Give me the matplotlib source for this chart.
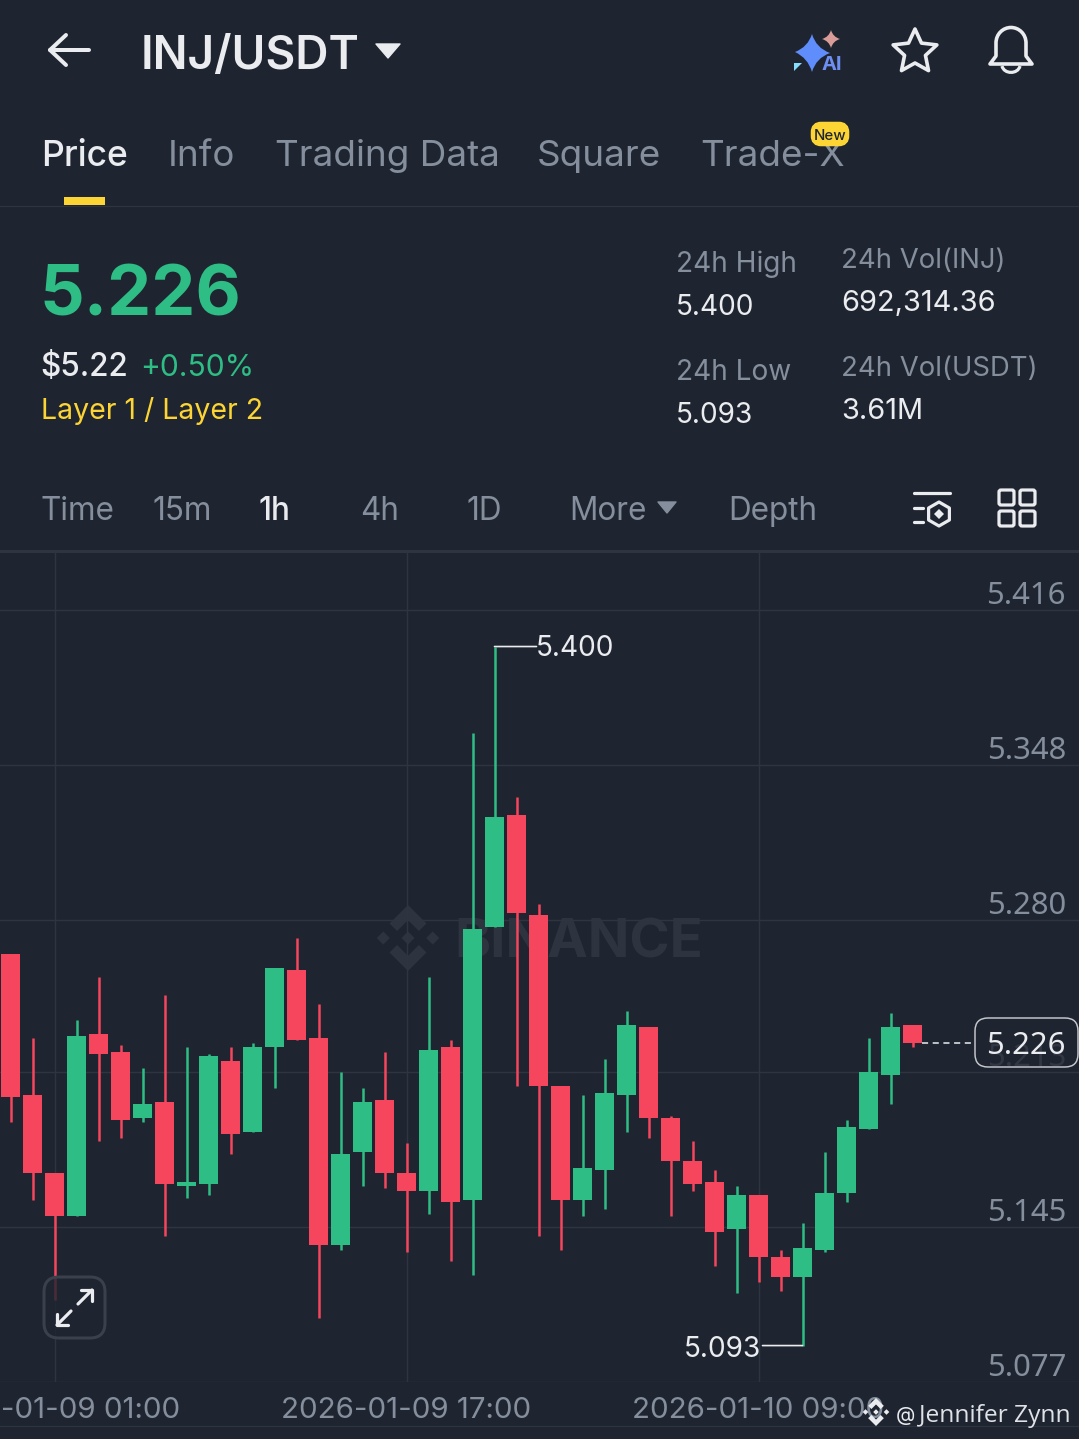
#!/usr/bin/env python3
"""INJ/USDT 1h candle chart, drawn like the exchange app screen."""

import numpy as np
import matplotlib
matplotlib.use("Agg")
import matplotlib.pyplot as plt
from matplotlib.patches import FancyBboxPatch, Polygon, PathPatch, Rectangle
from matplotlib.path import Path

# candle data (one candle per hour)
opens = [5.265, 5.203, 5.169, 5.150, 5.230, 5.222, 5.193, 5.200, 5.163, 5.164, 5.218, 5.187,
         5.224, 5.258, 5.228, 5.137, 5.178, 5.201, 5.169, 5.161, 5.224, 5.157, 5.277, 5.326,
         5.282, 5.207, 5.157, 5.170, 5.203, 5.233, 5.193, 5.174, 5.165, 5.144, 5.159, 5.132,
         5.123, 5.135, 5.160, 5.188, 5.212, 5.234]
closes = [5.202, 5.169, 5.150, 5.229, 5.221, 5.192, 5.199, 5.164, 5.165, 5.220, 5.186, 5.224,
          5.259, 5.227, 5.137, 5.177, 5.200, 5.169, 5.161, 5.223, 5.156, 5.276, 5.325, 5.283,
          5.207, 5.157, 5.171, 5.204, 5.234, 5.193, 5.174, 5.164, 5.143, 5.159, 5.132, 5.123,
          5.136, 5.160, 5.189, 5.213, 5.233, 5.226]
highs = [5.265, 5.228, 5.169, 5.236, 5.255, 5.225, 5.215, 5.247, 5.224, 5.221, 5.224, 5.226,
         5.259, 5.272, 5.243, 5.213, 5.206, 5.222, 5.182, 5.255, 5.227, 5.362, 5.400, 5.334,
         5.287, 5.207, 5.203, 5.219, 5.240, 5.233, 5.194, 5.183, 5.170, 5.163, 5.159, 5.135,
         5.147, 5.178, 5.192, 5.228, 5.239, 5.234]
lows = [5.191, 5.157, 5.113, 5.150, 5.183, 5.184, 5.191, 5.141, 5.158, 5.159, 5.177, 5.187,
        5.206, 5.227, 5.105, 5.135, 5.163, 5.162, 5.134, 5.151, 5.130, 5.124, 5.277, 5.207,
        5.141, 5.135, 5.150, 5.153, 5.187, 5.184, 5.150, 5.161, 5.128, 5.116, 5.121, 5.117,
        5.093, 5.134, 5.156, 5.188, 5.199, 5.224]

price_ticks = [5.416, 5.348, 5.280, 5.213, 5.145, 5.077]
time_tick_idx = [2, 18, 34]
time_tick_labels = ["2026-01-09 01:00", "2026-01-09 17:00", "2026-01-10 09:00"]
last_price = 5.226

tabs = ["Price", "Info", "Trading Data", "Square", "Trade-X"]
intervals = ["Time", "15m", "1h", "4h", "1D", "More", "Depth"]

BG = "#1f2530"
GREEN = "#2ebd85"
RED = "#f6465d"
GREY = "#848e9c"
WHITE = "#eaecef"
YELLOW = "#fcd535"
GRID = "#2f3540"
MARK = "#2d333f"

plt.rcParams["font.family"] = ["Inter", "DejaVu Sans"]

W, H = 1079, 1439
fig = plt.figure(figsize=(W / 100, H / 100), dpi=100, facecolor=BG)

# chart area in pixels: top 552, bottom 1382; one candle every 22 px
CHART_TOP, CHART_BOT = 552, 1382
PX_PER_PRICE = 2277
ax = fig.add_axes([0, (H - CHART_BOT) / H, 1, (CHART_BOT - CHART_TOP) / H], facecolor=BG, zorder=1)
ax.set_xlim(-10.5 / 22, (W - 10.5) / 22)
ax.set_ylim(5.077, 5.077 + (CHART_BOT - CHART_TOP) / PX_PER_PRICE)
for sp in ax.spines.values():
    sp.set_visible(False)

# overlay for everything that is not data, pixel coordinates
ui = fig.add_axes([0, 0, 1, 1], zorder=3)
ui.set_xlim(0, W)
ui.set_ylim(H, 0)
ui.axis("off")


def txt(x, y, s, px, color=WHITE, ha="left", weight="normal", axes=ui, **kw):
    return axes.text(x, y, s, fontsize=px * 0.72, color=color, ha=ha, va="baseline",
                     fontweight=weight, **kw)


def line(xs, ys, color=WHITE, px=3.0, axes=ui, **kw):
    axes.plot(xs, ys, color=color, lw=px * 0.72, solid_capstyle="round",
              solid_joinstyle="round", **kw)


def binance_logo(cx, cy, r, color, axes, transform=None, zorder=2):
    tr = transform if transform is not None else axes.transData
    side = 0.2
    shapes = [
        [(0, -1), (0.56, -0.44), (0.33, -0.21), (0, -0.54), (-0.33, -0.21), (-0.56, -0.44)],
        [(0, 1), (0.56, 0.44), (0.33, 0.21), (0, 0.54), (-0.33, 0.21), (-0.56, 0.44)],
        [(0, -side), (side, 0), (0, side), (-side, 0)],
        [(0.75, -side), (0.75 + side, 0), (0.75, side), (0.75 - side, 0)],
        [(-0.75, -side), (-0.75 + side, 0), (-0.75, side), (-0.75 - side, 0)],
    ]
    for s in shapes:
        pts = [(cx + a * r, cy + b * r) for a, b in s]
        axes.add_patch(Polygon(pts, closed=True, fc=color, ec="none", transform=tr, zorder=zorder))


def marker(i, price, dx, text_dx, text_dy, ha):
    # short white connector from a wick tip to its price label
    ax.annotate("", xy=(i, price), xytext=(dx, 0), textcoords="offset pixels", zorder=5,
                arrowprops=dict(arrowstyle="-", color=WHITE, lw=1.2, shrinkA=0, shrinkB=0))
    ax.annotate(f"{price:.3f}", xy=(i, price), xytext=(text_dx, text_dy), textcoords="offset pixels",
                ha=ha, va="center", fontsize=28 * 0.72, color=WHITE, zorder=5)


# ---- chart ----
ax.set_yticks(price_ticks)
ax.set_yticklabels([])
ax.set_xticks(time_tick_idx)
ax.set_xticklabels(time_tick_labels)
ax.tick_params(axis="y", length=0)
ax.tick_params(axis="x", length=0, pad=11, labelsize=29.5 * 0.72, labelcolor=GREY)
ax.grid(True, color=GRID, lw=1.0, zorder=0)
ax.set_axisbelow(True)

# watermark sits under the candles
txt(454, 957, "BINANCE", 54.5, color=MARK, weight="bold", axes=ax, transform=ui.transData, zorder=0.5)
binance_logo(408, 938, 33, MARK, ax, transform=ui.transData, zorder=0.5)

x_idx = np.arange(len(opens))
o = np.array(opens)
c = np.array(closes)
colors = [GREEN if b >= a else RED for a, b in zip(opens, closes)]
ax.vlines(x_idx, lows, highs, colors=colors, lw=1.8, zorder=2)
ax.bar(x_idx, np.abs(c - o), bottom=np.minimum(o, c), width=0.89, color=colors, lw=0, zorder=3)

# tick digits are tabular here, Noto keeps them the same width
for tick in price_ticks:
    ax.annotate(f"{tick:.3f}", xy=(1, tick), xycoords=ax.get_yaxis_transform(),
                xytext=(-13, 6), textcoords="offset pixels", ha="right", va="baseline",
                fontsize=31 * 0.72, color=GREY, zorder=4, family="Noto Sans")

# high and low markers
hi = int(np.argmax(highs))
lo = int(np.argmin(lows))
marker(hi, highs[hi], 42, 41, -2, "left")
marker(lo, lows[lo], -40, -41, -4, "right")

# last price dashed line and box
ax.plot([x_idx[-1] + 0.45, (975 - 10.5) / 22], [last_price, last_price], color=WHITE, lw=1.1,
        dashes=(4, 3), zorder=4)

# ---- header ----
line([50, 89], [50, 50], px=4)
line([66, 50, 66], [35, 50, 65], px=4)
txt(141, 69, "INJ/USDT", 46, weight="semibold")
ui.add_patch(Polygon([(376, 44), (400, 44), (388, 58)], closed=True, fc=WHITE, ec=WHITE, lw=1, joinstyle="round"))

# AI sparkle
big = Path([(812, 34), (816, 48), (830, 53), (816, 58), (812, 72), (808, 58), (795, 52), (808, 47), (812, 34)],
           [Path.MOVETO, Path.CURVE3, Path.CURVE3, Path.CURVE3, Path.CURVE3, Path.CURVE3, Path.CURVE3,
            Path.CURVE3, Path.CURVE3])
ui.add_patch(PathPatch(big, fc="#5f8dfb", ec="none"))
small = Path([(831, 30), (833, 37), (840, 39), (833, 41), (831, 48), (829, 41), (822, 39), (829, 37), (831, 30)],
             big.codes)
ui.add_patch(PathPatch(small, fc="#d99c98", ec="none"))
txt(822, 70, "AI", 20, color="#6f8ef2", weight="bold")
ui.add_patch(Polygon([(794, 71), (794, 63), (802, 63)], closed=True, fc="#86dcfb", ec="none"))

# favourite star
ang = np.deg2rad(-90 + 36 * np.arange(10))
rad = np.where(np.arange(10) % 2 == 0, 23, 11)
ui.add_patch(Polygon(np.c_[915 + rad * np.cos(ang), 52 + rad * np.sin(ang)], closed=True, fc="none",
                     ec=WHITE, lw=3.6 * 0.72, joinstyle="round"))

# bell
bell = Path([(990, 64), (996, 56), (996, 43), (996, 34), (1003, 27.5), (1011, 27.5), (1019, 27.5), (1026, 34),
             (1026, 43), (1026, 56), (1032, 64), (990, 64)],
            [Path.MOVETO, Path.LINETO, Path.LINETO, Path.CURVE4, Path.CURVE4, Path.CURVE4, Path.CURVE4, Path.CURVE4,
             Path.CURVE4, Path.LINETO, Path.LINETO, Path.CLOSEPOLY])
ui.add_patch(PathPatch(bell, fc="none", ec=WHITE, lw=3.6 * 0.72, joinstyle="round"))
clap = Path([(1002, 66), (1004, 74.5), (1018, 74.5), (1020, 66)], [Path.MOVETO, Path.CURVE4, Path.CURVE4, Path.CURVE4])
ui.add_patch(PathPatch(clap, fc="none", ec=WHITE, lw=3.2 * 0.72))

# tabs
for label, x in zip(tabs, [41, 168, 275, 537, 700]):
    active = label == "Price"
    txt(x, 166, label, 35.5 if active else 36.8, color=WHITE if active else GREY,
        weight="medium" if active else "normal")
ui.add_patch(Rectangle((64, 197), 41, 8, fc=YELLOW, ec="none", zorder=3))
line([0, W], [205.5, 205.5], color=GRID, px=1.2)
# badge covers the top of the X in Trade-X
ui.add_patch(FancyBboxPatch((817, 128), 26, 12, boxstyle="round,pad=0,rounding_size=4", mutation_aspect=1,
                            fc="#fcd535", ec="#fcd535", lw=9, zorder=4))
txt(830, 140, "New", 15, color=BG, ha="center", weight="medium", zorder=5)

# price block
txt(39, 316, "5.226", 70, color=GREEN, weight="bold")
txt(40, 376, "$5.22", 31.5, weight="medium")
txt(140, 376, "+0.50%", 30, color=GREEN)
txt(41, 419, "Layer 1 / Layer 2", 28.5, color=YELLOW)

txt(676, 272, "24h High", 28, color=GREY)
txt(676, 315, "5.400", 28)
txt(676, 380, "24h Low", 28, color=GREY)
txt(676, 423, "5.093", 28)
txt(841, 268, "24h Vol(INJ)", 27.5, color=GREY)
txt(841, 311, "692,314.36", 29)
txt(841, 376, "24h Vol(USDT)", 27.5, color=GREY)
txt(841, 419, "3.61M", 29)

# interval row
for label, x in zip(intervals, [41, 152, 258, 360, 466, 569, 728]):
    active = label == "1h"
    txt(x, 520, label, 31.5, color=WHITE if active else GREY, weight="medium" if active else "normal")
ui.add_patch(Polygon([(658, 502), (676, 502), (667, 513)], closed=True, fc=GREY, ec=GREY, lw=1, joinstyle="round"))

line([914, 950], [493, 493], px=3.2)
line([914, 923], [508, 508], px=3.2)
line([914, 923], [522, 522], px=3.2)
ang = np.deg2rad(-90 + 60 * np.arange(6))
ui.add_patch(Polygon(np.c_[939 + 12 * np.cos(ang), 514 + 12 * np.sin(ang)], closed=True, fc="none",
                     ec=WHITE, lw=3.2 * 0.72, joinstyle="round"))
ui.add_patch(Polygon([(939, 509), (944, 514), (939, 519), (934, 514)], closed=True, fc=WHITE, ec="none"))
for gx in (999, 1020):
    for gy in (490, 511):
        ui.add_patch(FancyBboxPatch((gx, gy), 15, 15, boxstyle="round,pad=0,rounding_size=2", fc="none",
                                    ec=WHITE, lw=3.2 * 0.72))
line([0, W], [550.5, 550.5], color=GRID, px=3)
line([0, W], [1426, 1426], color=GRID, px=1.2)

# expand button
ui.add_patch(FancyBboxPatch((44, 1277), 61, 61, boxstyle="round,pad=0,rounding_size=15",
                            fc=BG, alpha=0.8, ec="none"))
ui.add_patch(FancyBboxPatch((44, 1277), 61, 61, boxstyle="round,pad=0,rounding_size=15",
                            fc="none", ec="#3a404c", lw=3 * 0.72))
line([78, 92], [1304, 1290], px=3.2)
line([81, 92, 92], [1290, 1290, 1301], px=3.2)
line([71, 57], [1311, 1325], px=3.2)
line([57, 57, 68], [1314, 1325, 1325], px=3.2)

# last price box, the 5.213 tick shows faintly through it
ui.add_patch(FancyBboxPatch((975, 1018), 103, 49, boxstyle="round,pad=0,rounding_size=13",
                            fc=BG, alpha=0.82, ec=WHITE, lw=1.2 * 0.72 + 0.2))
txt(1066, 1054, f"{last_price:.3f}", 31, ha="right", family="Noto Sans")

# watermark at the bottom
binance_logo(876, 1412, 14, WHITE, ui, zorder=4)
txt(896, 1421, "@", 20, color=WHITE, zorder=4)
txt(919, 1422, "Jennifer Zynn", 24.5, color="#dfe2e6", family="Open Sans", zorder=4)

fig.savefig("out.png", dpi=100, facecolor=BG)
